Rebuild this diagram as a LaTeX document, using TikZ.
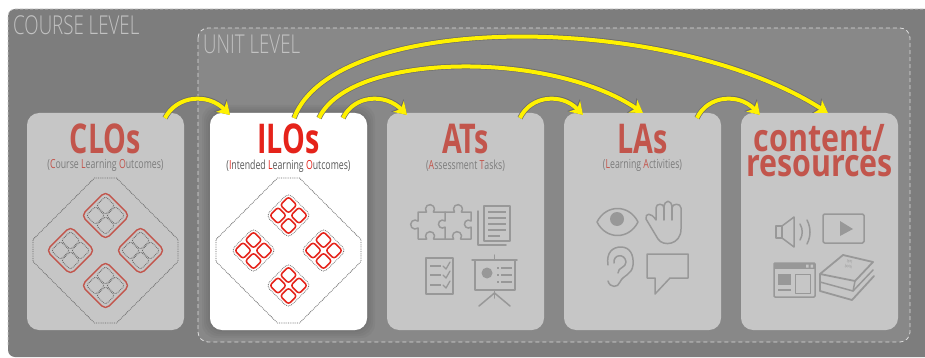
\documentclass[tikz,border=0pt]{standalone}
\usepackage{fontspec}
\setmainfont[FakeStretch=0.7]{Open Sans}
\newfontfamily\contentfont[FakeStretch=0.8]{Open Sans}
\newfontfamily\levelfont[FakeStretch=0.72]{Open Sans Light}
\usetikzlibrary{positioning,calc,arrows.meta}
\definecolor{panelgray}{HTML}{7D7D7D}
\definecolor{unitgray}{HTML}{888888}
\definecolor{cardgray}{HTML}{C6C6C6}
\definecolor{iconline}{HTML}{989898}
\definecolor{softred}{HTML}{C2554C}
\definecolor{hardred}{HTML}{E5231A}
\definecolor{subgray}{HTML}{7C7C7C}
\newcommand{\softhl}[1]{\textcolor{softred}{#1}}
\newcommand{\hardhl}[1]{\textcolor{hardred}{#1}}

\begin{document}
\begin{tikzpicture}[x=1pt,y=-1pt,
		card/.style={fill=cardgray,rounded corners=12pt,minimum width=157pt,minimum height=217pt,outer sep=0pt,inner sep=0pt},
		leveltext/.style={text=black!24,inner sep=0pt,anchor=north west},
		titletext/.style={text=softred,font=\fontsize{41}{41}\bfseries\selectfont,inner sep=0pt,text height=28pt,text depth=1pt},
		subtext/.style={text=subgray,font=\fontsize{12.5}{12.5}\selectfont,inner sep=0pt},
		yellowarrow/.style={draw=yellow,line width=4pt,-{Stealth[length=12pt,width=15pt,inset=3.5pt]},
			preaction={draw=black!58,line width=5.4pt,-{Stealth[length=13.5pt,width=17pt,inset=3.5pt]}}},
		icon/.style={draw=iconline,line width=1.5pt,line join=round,line cap=round},
		iconfill/.style={fill=iconline},
		bigdiamond/.style={draw=black!60,densely dotted,line width=.8pt},
		softred line/.style={draw=softred,line width=1.4pt},
		hardred line/.style={draw=hardred,line width=1.5pt},
		dotted line/.style={draw=black!60,densely dotted,line width=.8pt},
	]
	\useasboundingbox (0,0) rectangle (925,358);
	\fill[white] (0,0) rectangle (925,358);
	\fill[panelgray,rounded corners=7pt] (8,9) rectangle (935,357);
	\draw[black!20,densely dashed,line width=.7pt,rounded corners=7pt] (8,345) -- (8,9) -- (925,9);
	\draw[black!14,fill=unitgray,dash pattern=on 4pt off 3pt,line width=.8pt,rounded corners=10pt] (198,28) rectangle (910,342);
	\node[leveltext,font=\levelfont\fontsize{26}{26}\selectfont] (courselevel) at (13,15) {COURSE LEVEL};
	\node[leveltext,font=\levelfont\fontsize{26}{26}\selectfont] (unitlevel) at (203,35) {UNIT LEVEL};
	%
	\node[card] (clos) at (105.5,221.5) {};
	\node[card,right=26pt of clos] (ilos) {};
	\node[card,right=20pt of ilos] (ats) {};
	\node[card,right=20pt of ats] (las) {};
	\node[card,right=20pt of las] (content) {};
	% glow round the white card
	\foreach \gr in {8,6,4,2} {
		\fill[black,opacity=.03,rounded corners=14pt] ($(ilos.south west)+(-\gr,\gr)$) rectangle ($(ilos.north east)+(\gr,-\gr)$);
	}
	\fill[white,rounded corners=12pt] (ilos.south west) rectangle (ilos.north east);
	%
	\node[titletext,below=12pt of clos.north] (clostitle) {CLOs};
	\node[subtext,below=5pt of clostitle] (clossub) {(\softhl{C}ourse \softhl{L}earning \softhl{O}utcomes)};
	\node[titletext,text=hardred,below=12pt of ilos.north] (ilostitle) {ILOs};
	\node[subtext,text=black!65,below=5pt of ilostitle] (ilossub) {(\hardhl{I}ntended \hardhl{L}earning \hardhl{O}utcomes)};
	\node[titletext,below=12pt of ats.north] (atstitle) {ATs};
	\node[subtext,below=5pt of atstitle] (atssub) {(\softhl{A}ssessment \softhl{T}asks)};
	\node[titletext,below=12pt of las.north] (lastitle) {LAs};
	\node[subtext,below=5pt of lastitle] (lassub) {(\softhl{L}earning \softhl{A}ctivities)};
	\node[titletext,align=center,text height=,text depth=,below=11pt of content.north,font=\contentfont\fontsize{38}{25}\bfseries\selectfont] (contenttitle) {content/\\resources};
	%
	% course level diamond
	\draw[bigdiamond] (94.5,178) -- (116.5,178) -- (178,239.5) -- (178,261.5) -- (116.5,323) -- (94.5,323) -- (33,261.5) -- (33,239.5) -- cycle;
	\foreach \dx/\dy in {0/-35,35/0,0/35,-35/0} {
		\draw[softred line,rotate around={45:(105.5+\dx,250.5+\dy)},rounded corners=5pt] (105.5+\dx-17,250.5+\dy-17) rectangle (105.5+\dx+17,250.5+\dy+17);
		\foreach \ex/\ey in {0/-10,10/0,0/10,-10/0} {
			\draw[dotted line,rotate around={45:(105.5+\dx+\ex,250.5+\dy+\ey)},rounded corners=2.5pt] (105.5+\dx+\ex-6.5,250.5+\dy+\ey-6.5) rectangle (105.5+\dx+\ex+6.5,250.5+\dy+\ey+6.5);
		}
	}
	% unit level diamond
	\draw[bigdiamond] (277.5,178) -- (299.5,178) -- (361,239.5) -- (361,261.5) -- (299.5,323) -- (277.5,323) -- (216,261.5) -- (216,239.5) -- cycle;
	\foreach \dx/\dy in {0/-35,35/0,0/35,-35/0} {
		\draw[dotted line,rotate around={45:(288.5+\dx,250.5+\dy)},rounded corners=5pt] (288.5+\dx-16,250.5+\dy-16) rectangle (288.5+\dx+16,250.5+\dy+16);
		\foreach \ex/\ey in {0/-10.5,10.5/0,0/10.5,-10.5/0} {
			\draw[hardred line,rotate around={45:(288.5+\dx+\ex,250.5+\dy+\ey)},rounded corners=2.5pt] (288.5+\dx+\ex-5.8,250.5+\dy+\ey-5.8) rectangle (288.5+\dx+\ex+5.8,250.5+\dy+\ey+5.8);
		}
	}
	%
	% puzzle
	\draw[icon] (418,212) -- (426.5,212) arc[start angle=140,end angle=400,radius=4.5] -- (454.5,212) arc[start angle=140,end angle=400,radius=4.5] -- (471,212) -- (471,221) arc[start angle=-50,end angle=-310,radius=4] -- (471,239) -- (460.5,239) arc[start angle=40,end angle=-220,radius=4.5] -- (433.5,239) arc[start angle=40,end angle=-220,radius=4.5] -- (418,239) -- (418,228) arc[start angle=50,end angle=310,radius=4.5] -- cycle;
	\draw[icon] (445,212) -- (445,221) arc[start angle=-50,end angle=-310,radius=4] -- (445,239);
	% papers
	\draw[icon] (484,206) rectangle (510,241);
	\draw[icon] (478,211) -- (478,245) -- (506,245);
	\foreach \ly in {212,218,224,230} \draw[icon,line cap=butt] (488,\ly) -- (506,\ly);
	\draw[icon,line cap=butt] (488,236) -- (500,236);
	% checklist
	\draw[icon] (426,258) rectangle (453,294);
	\foreach \ly in {266,275,285} {
		\draw[icon,line cap=butt] (430,\ly) -- (441,\ly);
		\draw[icon,line width=1.3pt] (443,\ly) -- (446,\ly+3) -- (450,\ly-4);
	}
	% board
	\draw[icon] (472,260) -- (517,260);
	\draw[icon] (494.5,255) -- (494.5,260);
	\draw[icon] (475,260) rectangle (515,290);
	\draw[icon] (494.5,290) -- (494.5,298);
	\draw[icon] (494.5,293) -- (479,306);
	\draw[icon] (494.5,293) -- (510,306);
	\fill[iconfill] (487,273) circle (5.5);
	\foreach \ly in {268,275,282} \draw[icon,line cap=butt] (497,\ly) -- (499,\ly) (501,\ly) -- (512,\ly);
	%
	% eye
	\draw[icon] (597,222) .. controls (606,204) and (629,204) .. (638,222) .. controls (629,240) and (606,240) .. (597,222) -- cycle;
	\fill[iconfill] (617,219) circle (7);
	% hand
	\draw[icon] (658,239) -- (646,219) .. controls (645,213) and (651,212) .. (656,220) -- (656,208) .. controls (656,203) and (664,203) .. (664,208) .. controls (664,199) and (672,199) .. (672,208) .. controls (672,203) and (681,203) .. (681,208) -- (681,229) .. controls (681,245) and (663,247) .. (658,239) -- cycle;
	\draw[icon] (664,208) -- (664,220);
	\draw[icon] (672,208) -- (672,220);
	% ear
	\draw[icon] (608,265) .. controls (606,252) and (613,247) .. (621,247) .. controls (630,247) and (634,255) .. (633,265) .. controls (632,275) and (623,275) .. (620,282) .. controls (618,288) and (610,288) .. (608,281);
	\draw[icon] (614,263) .. controls (613,254) and (625,253) .. (626,262) .. controls (626,268) and (618,267) .. (618,273);
	% speech bubble
	\draw[icon] (647,254) -- (688,254) -- (688,278) -- (670,278) -- (655,294) -- (655,278) -- (647,278) -- cycle;
	%
	% speaker
	\draw[icon] (776,226) rectangle (782,238);
	\draw[icon] (782,226) -- (794,217) -- (794,247) -- (782,238);
	\draw[icon] (800,224) .. controls (803,229) and (803,235) .. (800,240);
	\draw[icon] (807,220) .. controls (811,228) and (811,236) .. (807,244);
	% screen
	\draw[icon,rounded corners=1.5pt] (823,214) rectangle (864,243);
	\fill[iconfill] (840,221) -- (853,229) -- (840,236) -- cycle;
	% window
	\draw[icon,rounded corners=1pt] (774,263) rectangle (815,297);
	\fill[iconfill] (774,263) rectangle (815,269);
	\fill[cardgray] (806,264.5) rectangle (808.5,267.5) (810.5,264.5) rectangle (813,267.5);
	\fill[iconfill] (778,274) rectangle (791,285);
	\draw[icon,line width=1pt] (795,274) rectangle (810,293);
	\draw[icon,line cap=butt] (778,290) -- (791,290);
	% book
	\draw[icon,line width=1.8pt] (843,255) -- (873,262) -- (855,281) -- (820,274) -- cycle;
	\draw[icon,line width=1.8pt] (820,274) -- (820,291) -- (852,300) -- (874,276);
	\draw[icon] (820,282) -- (853,291) -- (873,270);
	\draw[icon] (855,281) -- (853,291);
	\node[text=iconline,rotate=-13,inner sep=0pt,align=center,font=\fontsize{4.5}{5}\selectfont] (booktext) at (849,264) {text\\book};
	%
	\draw[yellowarrow] ($(clos.north east)+(-19,5)$) .. controls (177,95) and (208,93) .. ($(ilos.north west)+(20,2)$);
	\draw[yellowarrow] ($(ilos.north west)+(84,5)$) .. controls (335,10) and (670,12) .. ($(content.north west)+(87,0)$);
	\draw[yellowarrow] ($(ilos.north west)+(109,5)$) .. controls (350,52) and (550,50) .. ($(las.north west)+(79,0)$);
	\draw[yellowarrow] ($(ilos.north east)+(-24,5)$) .. controls (354,95) and (385,93) .. ($(ats.north west)+(20,2)$);
	\draw[yellowarrow] ($(ats.north east)+(-24,5)$) .. controls (531,95) and (562,93) .. ($(las.north west)+(19,2)$);
	\draw[yellowarrow] ($(las.north east)+(-24,5)$) .. controls (708,95) and (739,93) .. ($(content.north west)+(19,2)$);
\end{tikzpicture}
\end{document}
